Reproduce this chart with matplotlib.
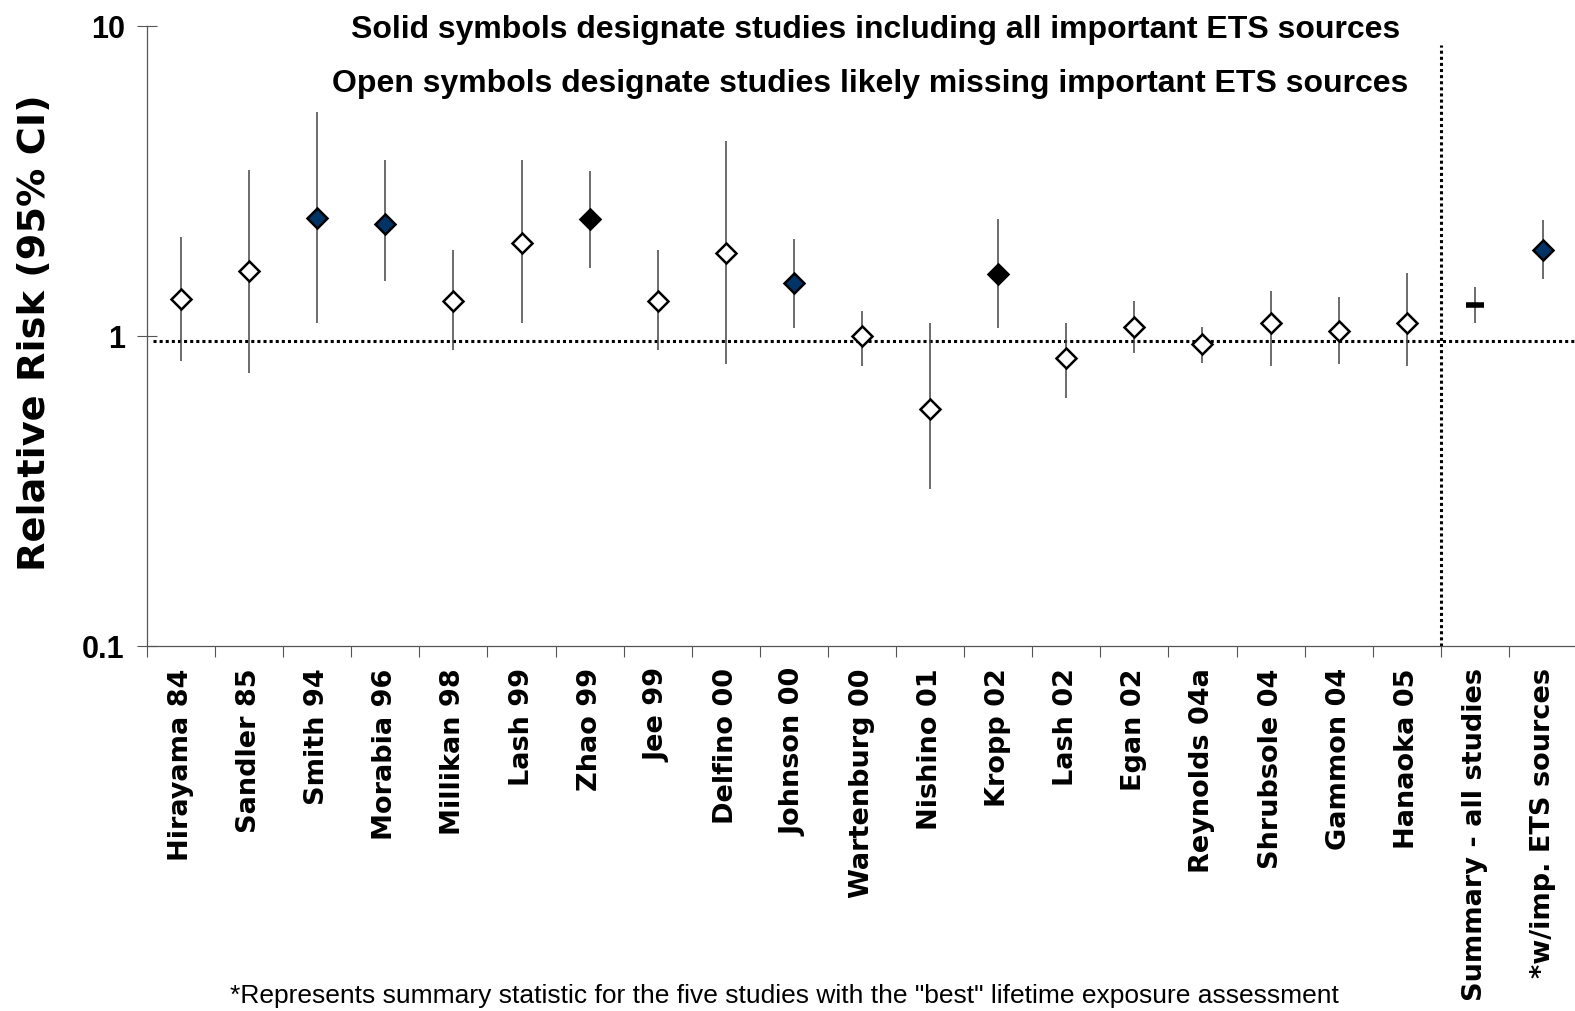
import numpy as np
import matplotlib
matplotlib.use('Agg')
import matplotlib.pyplot as plt
from matplotlib.ticker import FixedLocator, NullFormatter, NullLocator

studies = ['Hirayama 84', 'Sandler 85', 'Smith 94', 'Morabia 96', 'Millikan 98',
           'Lash 99', 'Zhao 99', 'Jee 99', 'Delfino 00', 'Johnson 00',
           'Wartenburg 00', 'Nishino 01', 'Kropp 02', 'Lash 02', 'Egan 02',
           'Reynolds 04a', 'Shrubsole 04', 'Gammon 04', 'Hanaoka 05',
           'Summary - all studies', '*w/imp. ETS sources']
rr = [1.32, 1.62, 2.40, 2.30, 1.30, 1.99, 2.38, 1.30, 1.85, 1.48, 1.00,
      0.58, 1.59, 0.85, 1.07, 0.94, 1.10, 1.04, 1.10, 1.26, 1.90]
ci_low = [0.83, 0.76, 1.10, 1.50, 0.90, 1.10, 1.66, 0.90, 0.81, 1.06, 0.80,
          0.32, 1.06, 0.63, 0.88, 0.82, 0.80, 0.81, 0.80, 1.10, 1.53]
ci_high = [2.09, 3.43, 5.28, 3.69, 1.89, 3.69, 3.40, 1.89, 4.26, 2.06, 1.20,
           1.10, 2.39, 1.10, 1.30, 1.07, 1.40, 1.34, 1.60, 1.44, 2.37]
# symbol fill: white = open, others = solid
fills = ['white', 'white', '#003366', '#003366', 'white', 'white', 'black',
         'white', 'white', '#003366', 'white', 'white', 'black', 'white',
         'white', 'white', 'white', 'white', 'white', None, '#003366']

W, H = 1575, 1011
fig = plt.figure(figsize=(W / 100, H / 100), dpi=100)
ax = fig.add_axes([147 / W, (H - 646) / H, 1430 / W, 620 / H])

x = np.arange(len(studies))
ax.vlines(x, ci_low, ci_high, color='#444444', lw=1.1, zorder=2)
for i in x:
    if fills[i] is None:
        ax.plot(i, rr[i], marker='_', ms=13, mew=4, color='black', zorder=3)
    else:
        ax.plot(i, rr[i], marker='D', ms=10, mfc=fills[i], mec='black',
                mew=1.8, zorder=3)

ax.axhline(0.96, xmin=0.004, color='black', lw=2.2, ls=(0, (1, 1)), zorder=1)
ax.axvline(18.5, ymax=0.97, color='black', lw=2.2, ls=(0, (1, 1)), zorder=1)

ax.set_yscale('log')
ax.set_ylim(0.1, 10)
ax.set_xlim(-0.5, 20.5)
ax.yaxis.set_major_locator(FixedLocator([0.1, 1, 10]))
ax.yaxis.set_minor_locator(NullLocator())
ax.set_yticklabels(['0.1', '1', '10'])
ax.tick_params(axis='y', which='major', direction='inout', length=14,
               width=0.8, color='#555555', pad=9, labelsize=22)
for t in ax.get_yticklabels():
    t.set_fontweight('bold')
    t.set_family('Liberation Sans')

ax.set_xticks(x)
ax.set_xticklabels(studies, rotation=90, va='top', ha='center',
                   fontweight='bold', family='DejaVu Sans', fontsize=19.5)
ax.xaxis.set_minor_locator(FixedLocator(np.arange(-0.5, 21, 1)))
ax.xaxis.set_minor_formatter(NullFormatter())
ax.tick_params(axis='x', which='major', length=0, pad=16)
ax.tick_params(axis='x', which='minor', direction='out', length=8,
               width=0.8, color='#555555')

for s in ['top', 'right']:
    ax.spines[s].set_visible(False)
for s in ['left', 'bottom']:
    ax.spines[s].set_color('#555555')
    ax.spines[s].set_linewidth(0.9)

fig.text(35 / W, 1 - 333 / H, 'Relative Risk (95% CI)', rotation=90,
         ha='center', va='center', fontsize=27.5, fontweight='bold',
         family='DejaVu Sans')
fig.text(876 / W, 1 - 30 / H,
         'Solid symbols designate studies including all important ETS sources',
         ha='center', va='center', fontsize=23, fontweight='bold',
         family='Liberation Sans')
fig.text(870 / W, 1 - 84 / H,
         'Open symbols designate studies likely missing important ETS sources',
         ha='center', va='center', fontsize=23, fontweight='bold',
         family='Liberation Sans')
fig.text(784 / W, 1 - 996 / H,
         '*Represents summary statistic for the five studies with the "best" lifetime exposure assessment',
         ha='center', va='center', fontsize=19, family='Liberation Sans')

fig.savefig('out.png', dpi=100)
